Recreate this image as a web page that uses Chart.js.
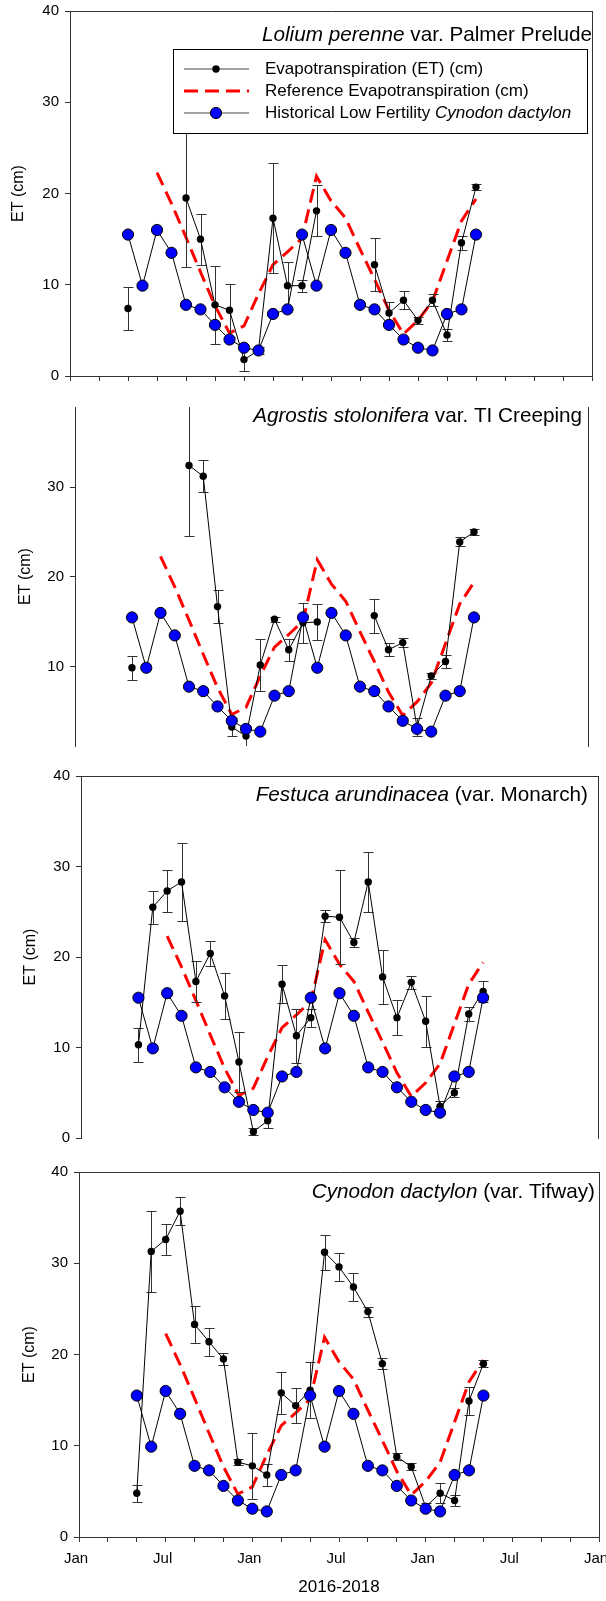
<!DOCTYPE html>
<html><head><meta charset="utf-8">
<script src="https://cdn.jsdelivr.net/npm/chart.js@4.4.1/dist/chart.umd.min.js"></script>
<style>
html,body{margin:0;padding:0;background:#fff;}
body{width:606px;height:1601px;position:relative;overflow:hidden;}
.panel{position:absolute;left:0;width:606px;}
</style></head><body>
<div class="panel" style="top:0;height:395px"><canvas id="c1"></canvas></div>
<div class="panel" style="top:395px;height:360px"><canvas id="c2"></canvas></div>
<div class="panel" style="top:755px;height:390px"><canvas id="c3"></canvas></div>
<div class="panel" style="top:1145px;height:456px"><canvas id="c4"></canvas></div>
<script>
// ---------------- DATA ----------------
const months = ['2016-05','2016-06','2016-07','2016-08','2016-09','2016-10','2016-11','2016-12',
  '2017-01','2017-02','2017-03','2017-04','2017-05','2017-06','2017-07','2017-08','2017-09','2017-10','2017-11','2017-12',
  '2018-01','2018-02','2018-03','2018-04','2018-05'];

const historical = [15.5, 9.9, 16.0, 13.5, 7.8, 7.3, 5.6, 4.0, 3.1, 2.8, 6.8, 7.3,
  15.5, 9.9, 16.0, 13.5, 7.8, 7.3, 5.6, 4.0, 3.1, 2.8, 6.8, 7.3, 15.5];

const refET = [null, null, 22.3, 18.9, 15.2, 11.4, 7.7, 4.7, 5.5, 9.0, 12.2, 13.6,
  15.1, 21.9, 19.2, 17.3, 13.9, 10.6, 7.2, 4.6, 6.1, 8.2, 12.6, 17.0, 19.4];

const etLolium  = [7.4, null, null, null, 19.5, 15.0, 7.8, 7.2, 1.8, 2.8, 17.3, 9.9,
  9.9, 18.1, null, null, null, 12.2, 6.9, 8.3, 6.1, 8.3, 4.5, 14.6, 20.7];
const errLolium = [2.4, null, null, null, 7.6, 2.8, 4.3, 2.9, 1.2, 0.4, 6.0, 2.6,
  0.65, 2.8, null, null, null, 2.9, 1.2, 1.0, 0.4, 0.65, 0.7, 0.75, 0.3];

const etAgrostis  = [9.9, null, null, null, 32.4, 31.2, 16.7, 3.3, 2.3, 10.2, 15.3, 11.9,
  14.9, 15.0, null, null, null, 15.7, 11.9, 12.7, 3.3, 9.0, 10.6, 23.9, 25.0];
const errAgrostis = [1.35, null, null, null, 7.8, 1.8, 1.85, 1.0, 1.1, 2.9, 0.3, 1.2,
  2.2, 2.0, null, null, null, 1.9, 0.7, 0.5, 1.0, 0.3, 0.7, 0.5, 0.3];

const etFestuca  = [10.3, 25.5, 27.3, 28.3, 17.3, 20.4, 15.7, 8.4, 0.7, 1.9, 17.0, 11.3,
  13.3, 24.5, 24.4, 21.6, 28.3, 17.8, 13.3, 17.2, 12.9, 3.5, 5.0, 13.7, 16.2];
const errFestuca = [1.9, 1.8, 2.35, 4.3, 2.3, 1.4, 2.5, 3.35, 0.4, 0.85, 2.1, 3.0,
  1.0, 0.65, 5.2, 0.5, 3.3, 3.0, 1.95, 0.7, 2.8, 0.6, 0.5, 0.8, 1.2];

const etCynodon  = [4.8, 31.3, 32.6, 35.7, 23.3, 21.4, 19.5, 8.2, 7.8, 6.8, 15.8, 14.4,
  16.1, 31.2, 29.6, 27.4, 24.7, 19.0, 8.8, 7.7, 3.3, 4.8, 4.0, 14.9, 19.0];
const errCynodon = [0.95, 4.4, 1.65, 1.55, 2.0, 1.55, 0.7, 0.3, 3.6, 1.25, 2.3, 1.9,
  3.1, 1.9, 1.55, 1.55, 0.55, 0.6, 0.4, 0.4, 0.4, 1.1, 0.6, 1.55, 0.4];

const xTickValues = [0,2,4,6,8,10,12,14,16,18,20,22,24,26,28,30,32,34,36];
const xTickLabels = ['Jan','','','Jul','','','Jan','','','Jul','','','Jan','','','Jul','','','Jan'];
const yTicksFull = [0,10,20,30,40];
const yTicksAgrostis = [10,20,30];

const seriesLabels = ['Evapotranspiration (ET) (cm)', 'Reference Evapotranspiration (cm)', 'Historical Low Fertility Cynodon dactylon'];
const legendRich = [
  [['Evapotranspiration (ET) (cm)', false]],
  [['Reference Evapotranspiration (cm)', false]],
  [['Historical Low Fertility ', false], ['Cynodon dactylon', true]]
];
const titleLolium   = [['Lolium perenne', true], [' var. Palmer Prelude', false]];
const titleAgrostis = [['Agrostis stolonifera', true], [' var. TI Creeping', false]];
const titleFestuca  = [['Festuca arundinacea', true], [' (var. Monarch)', false]];
const titleCynodon  = [['Cynodon dactylon', true], [' (var. Tifway)', false]];
const yAxisTitle = 'ET (cm)';
const xAxisTitle = '2016-2018';

// ---------------- HELPERS ----------------
const FONT = "'Liberation Sans', Arial, Helvetica, sans-serif";
Chart.defaults.font.family = FONT;
Chart.defaults.color = '#000';

function monthIndex(s){ const p = s.split('-').map(Number); return (p[0]-2016)*12 + (p[1]-1); }
const xs = months.map(monthIndex);
function pts(vals){ return vals.map((v,i)=>({x: xs[i], y: v})); }

function drawRich(ctx, segs, size, x, y, align){
  let total = 0;
  const widths = segs.map(([t,it])=>{ ctx.font = (it?'italic ':'') + size + 'px ' + FONT; const w = ctx.measureText(t).width; total += w; return w; });
  let cx = align === 'right' ? x - total : x;
  ctx.textBaseline = 'middle'; ctx.textAlign = 'left'; ctx.fillStyle = '#000';
  segs.forEach(([t,it],i)=>{ ctx.font = (it?'italic ':'') + size + 'px ' + FONT; ctx.fillText(t, cx, y); cx += widths[i]; });
}

const errorBarPlugin = {
  id: 'errorBars',
  beforeDatasetDraw(chart, args){
    const ds = chart.data.datasets[args.index];
    if (!ds.errors) return;
    const {ctx, chartArea: ca, scales} = chart;
    const x = scales.x, y = scales.y;
    ctx.save();
    ctx.beginPath(); ctx.rect(ca.left, ca.top, ca.right-ca.left, ca.bottom-ca.top); ctx.clip();
    ctx.strokeStyle = '#333'; ctx.lineWidth = 1;
    ds.data.forEach((p,i)=>{
      const e = ds.errors[i];
      if (p.y == null || e == null) return;
      const px = Math.round(x.getPixelForValue(p.x)) + 0.5;
      const yt = Math.round(y.getPixelForValue(p.y + e)) + 0.5;
      const yb = Math.round(y.getPixelForValue(p.y - e)) + 0.5;
      ctx.beginPath();
      ctx.moveTo(px, yt); ctx.lineTo(px, yb);
      ctx.moveTo(px-5, yt); ctx.lineTo(px+5, yt);
      ctx.moveTo(px-5, yb); ctx.lineTo(px+5, yb);
      ctx.stroke();
    });
    ctx.restore();
  }
};

const panelTextPlugin = {
  id: 'panelText',
  afterDraw(chart, args, opts){
    const ctx = chart.ctx, ca = chart.chartArea;
    ctx.save();
    if (opts.title) drawRich(ctx, opts.title, opts.titleSize, ca.right - opts.titleDx, ca.top + opts.titleDy, 'right');
    if (opts.legend){
      const L = opts.legend;
      ctx.fillStyle = '#fff'; ctx.strokeStyle = '#000'; ctx.lineWidth = 1;
      ctx.fillRect(L.x, L.y, L.w, L.h);
      ctx.strokeRect(L.x + 0.5, L.y + 0.5, L.w, L.h);
      const dsets = chart.data.datasets;
      legendRich.forEach((segs, i)=>{
        const ry = L.y + L.rows[i];
        const ds = dsets[i];
        ctx.save();
        ctx.beginPath();
        ctx.strokeStyle = i === 1 ? ds.borderColor : '#444'; ctx.lineWidth = ds.borderWidth;
        if (ds.borderDash) ctx.setLineDash(ds.borderDash);
        ctx.moveTo(L.x + L.lineX0, ry); ctx.lineTo(L.x + L.lineX1, ry); ctx.stroke();
        ctx.restore();
        if (ds.pointRadius > 0){
          ctx.beginPath();
          ctx.arc(L.x + L.markX, ry, ds.pointRadius, 0, Math.PI*2);
          ctx.fillStyle = ds.pointBackgroundColor; ctx.fill();
          if (ds.pointBorderWidth){ ctx.lineWidth = ds.pointBorderWidth; ctx.strokeStyle = ds.pointBorderColor; ctx.stroke(); }
        }
        drawRich(ctx, segs, L.size, L.x + L.textX, ry, 'left');
      });
    }
    ctx.restore();
  }
};

// ---------------- PANELS ----------------
const panels = [
  {canvas:'c1', top:0, height:395, area:{left:70, top:11, right:592, bottom:376},
   yMin:0, yMax:40, yTicks:yTicksFull, et:etLolium, err:errLolium, title:titleLolium, titleDx:0, titleDy:24,
   frameTop:true, frameBottom:true, xLabels:false, yTitleCenter:19, legend:true},
  {canvas:'c2', top:395, height:360, area:{left:75, top:407, right:588, bottom:746},
   yMin:1.2, yMax:38.9, yTicks:yTicksAgrostis, et:etAgrostis, err:errAgrostis, title:titleAgrostis, titleDx:6, titleDy:9,
   frameTop:false, frameBottom:false, xLabels:false, yTitleCenter:26, legend:false},
  {canvas:'c3', top:755, height:390, area:{left:81, top:776, right:598, bottom:1138},
   yMin:0, yMax:40, yTicks:yTicksFull, et:etFestuca, err:errFestuca, title:titleFestuca, titleDx:10, titleDy:19,
   frameTop:true, frameBottom:false, xLabels:false, yTitleCenter:31, legend:false},
  {canvas:'c4', top:1145, height:456, area:{left:79, top:1172, right:599, bottom:1537},
   yMin:0, yMax:40, yTicks:yTicksFull, et:etCynodon, err:errCynodon, title:titleCynodon, titleDx:4, titleDy:20,
   frameTop:true, frameBottom:true, xLabels:true, yTitleCenter:30, legend:false}
];

const AXIS = '#333';

panels.forEach(P=>{
  const A = P.area;
  const xHeight = P.height - (A.bottom - P.top);
  const datasets = [
    {label: seriesLabels[0], data: pts(P.et), errors: P.err, borderColor:'#000', borderWidth:1,
     pointRadius:3.7, pointBackgroundColor:'#000', pointBorderColor:'#000', pointBorderWidth:0,
     spanGaps:false, tension:0, order:1},
    {label: seriesLabels[1], data: pts(refET), borderColor:'#ff0000', borderWidth:3, borderDash:[14,7],
     pointRadius:0, spanGaps:false, tension:0, order:2},
    {label: seriesLabels[2], data: pts(historical), borderColor:'#000', borderWidth:1,
     pointRadius:5.6, pointBackgroundColor:'#0000ff', pointBorderColor:'#000', pointBorderWidth:1,
     tension:0, order:0}
  ];
  const hidden = {display:false};
  new Chart(document.getElementById(P.canvas), {
    type:'line',
    data:{datasets},
    plugins:[errorBarPlugin, panelTextPlugin],
    options:{
      responsive:true, maintainAspectRatio:false, animation:false, devicePixelRatio:1,
      events:[],
      layout:{autoPadding:false, padding:{left:0, right:606 - A.right, top:A.top - P.top, bottom:0}},
      plugins:{
        legend:{display:false}, tooltip:{enabled:false},
        panelText:{
          title:P.title, titleSize:20.7, titleDx:P.titleDx, titleDy:P.titleDy,
          legend: P.legend ? {x:173, y:49, w:414, h:84, rows:[20, 42, 64], lineX0:11, lineX1:76, markX:43, textX:92, size:17} : null
        }
      },
      scales:{
        x:{
          type:'linear', position:'bottom', min:0, max:36,
          afterBuildTicks:s=>{ s.ticks = xTickValues.map(v=>({value:v})); },
          afterFit:s=>{ s.height = xHeight; s.paddingLeft = 0; s.paddingRight = 0; },
          border:{display:P.frameBottom, color:AXIS, width:1},
          grid:{display:P.frameBottom, drawOnChartArea:false, drawTicks:true, tickLength:5, color:AXIS, tickColor:AXIS},
          ticks:{display:P.xLabels, autoSkip:false, maxRotation:0, padding:8, labelOffset:-3,
                 font:{size:15}, color:'#000', callback:(v,i)=>xTickLabels[i]},
          title: P.xLabels ? {display:true, text:xAxisTitle, font:{size:17}, color:'#000', padding:{top:0, bottom:3}} : hidden
        },
        x2:{
          type:'linear', position:'top', min:0, max:36, display:true,
          afterFit:s=>{ s.height = 0; s.paddingLeft = 0; s.paddingRight = 0; },
          border:{display:P.frameTop, color:AXIS, width:1},
          grid:{display:false}, ticks:{display:false}
        },
        y:{
          type:'linear', position:'left', min:P.yMin, max:P.yMax,
          afterBuildTicks:s=>{ s.ticks = P.yTicks.map(v=>({value:v})); },
          afterFit:s=>{ s.width = A.left; s.paddingTop = 0; s.paddingBottom = 0; },
          border:{display:true, color:AXIS, width:1},
          grid:{display:true, drawOnChartArea:false, drawTicks:true, tickLength:5, color:AXIS, tickColor:AXIS},
          ticks:{display:true, padding:6, font:{size:15}, color:'#000'},
          title:{display:true, text:yAxisTitle, font:{size:16}, color:'#000', padding:{top:P.yTitleCenter - 9.6, bottom:0}}
        },
        y2:{
          type:'linear', position:'right', min:P.yMin, max:P.yMax, display:true,
          afterFit:s=>{ s.width = 0; s.paddingTop = 0; s.paddingBottom = 0; },
          border:{display:true, color:AXIS, width:1},
          grid:{display:false}, ticks:{display:false}
        }
      }
    }
  });
});
</script>
</body></html>
